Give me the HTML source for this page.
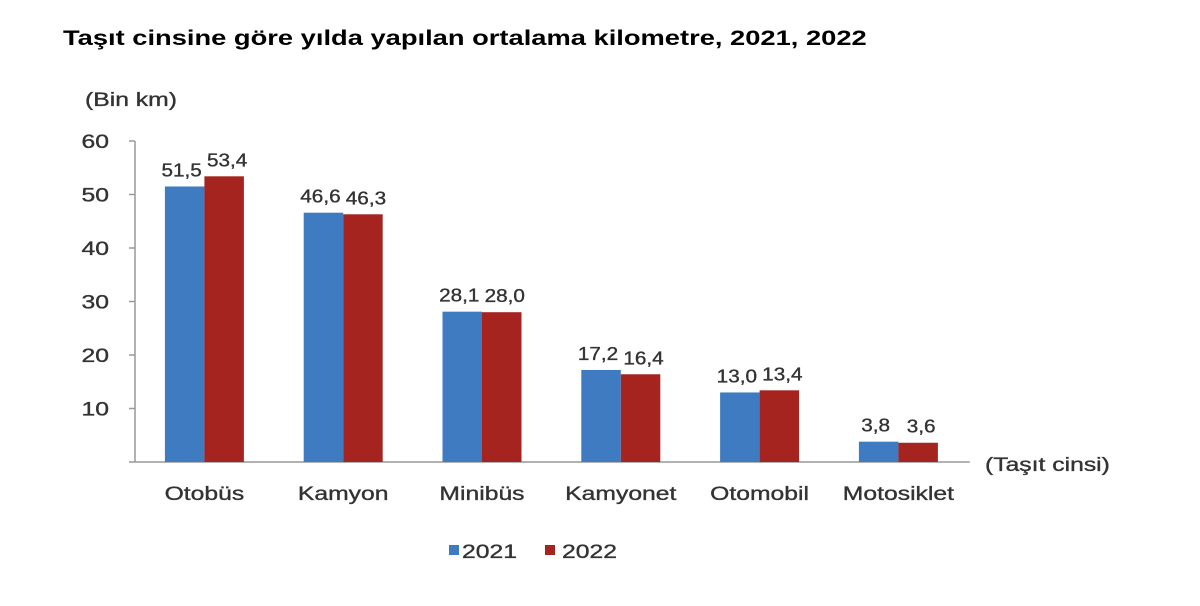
<!DOCTYPE html>
<html><head><meta charset="utf-8"><style>
body{margin:0;background:#fff;}
svg{display:block;font-family:"Liberation Sans",Arial,sans-serif;}
svg text{stroke:#333;stroke-width:0.35px;}
svg text.t{stroke:none;}
</style></head><body>
<svg width="1200" height="606" viewBox="0 0 1200 606">
<text class="t" x="63" y="45" font-size="21" font-weight="bold" fill="#000">Taşıt cinsine göre yılda yapılan ortalama kilometre, 2021, 2022</text>
<text x="85" y="106" font-size="19" fill="#333">(Bin km)</text>
<text x="985" y="471" font-size="19" fill="#333">(Taşıt cinsi)</text>
<g id="g"></g>
<g>
<rect x="449" y="545" width="10" height="10" fill="#3f7bc1"/>
<text x="462" y="558" font-size="19" fill="#333">2021</text>
<rect x="545" y="545" width="10" height="10" fill="#a52420"/>
<text x="562" y="558" font-size="19" fill="#333">2022</text>
</g>
</svg>
<script>
const categories=["Otobüs","Kamyon","Minibüs","Kamyonet","Otomobil","Motosiklet"];
const s2021=[51.5,46.6,28.1,17.2,13.0,3.8];
const s2022=[53.4,46.3,28.0,16.4,13.4,3.6];
const yTicks=[10,20,30,40,50,60];
const NS="http://www.w3.org/2000/svg";
const g=document.getElementById('g');
const x0=135,step=138.8,y0=462,yPer=(462-141)/60,bw=39.5;
const y=v=>y0-v*yPer;
const xc=i=>x0+step*(i+0.5);
function mk(t,a){const e=document.createElementNS(NS,t);for(const k in a)e.setAttribute(k,a[k]);g.appendChild(e);return e;}
let e=mk('line',{x1:x0,y1:141,x2:x0,y2:y0,stroke:'#999','stroke-width':1.5});


e=mk('line',{x1:x0-6,y1:y0,x2:x0+step*6+2,y2:y0,stroke:'#999','stroke-width':1.5});


yTicks.forEach(v=>{
 let t=mk('line',{x1:x0-6,y1:y(v),x2:x0,y2:y(v),stroke:'#999','stroke-width':1.5});
 
 
 let l=mk('text',{x:x0-26,y:y(v)+7,'font-size':19,fill:'#333','text-anchor':'end'});
 l.textContent=v;
 
 
});
const fmt=v=>v.toFixed(1).replace('.',',');
categories.forEach((c,i)=>{
 const cx=xc(i);
 [[s2021,'#3f7bc1',-bw],[s2022,'#a52420',0]].forEach(([s,col,off],k)=>{
  let r=mk('rect',{x:cx+off,y:y(s[i]),width:bw,height:y0-y(s[i]),fill:col});
  
  
  let t=mk('text',{x:cx+off+bw/2+(k?3:-3),y:y(s[i])-10,'font-size':18,fill:'#333','text-anchor':'middle'});
  t.textContent=fmt(s[i]);
  
  
  t.setAttribute('data-s','1.15');
 });
 let l=mk('text',{x:cx,y:500,'font-size':19,fill:'#333','text-anchor':'middle'});
 l.textContent=c;
 
 
});
document.querySelectorAll('svg text').forEach(t=>{
 const w=t.getComputedTextLength();
 const f=parseFloat(t.getAttribute('data-s')||'1.3');
 t.setAttribute('textLength',(w*f).toFixed(1));
 t.setAttribute('lengthAdjust','spacingAndGlyphs');
});
</script>
</body></html>
